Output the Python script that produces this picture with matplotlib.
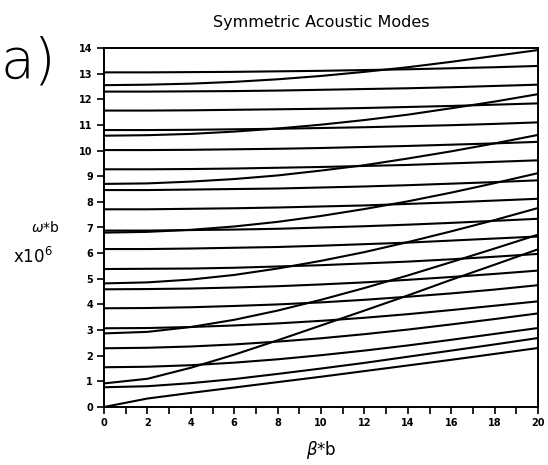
import matplotlib
matplotlib.use("Agg")
import matplotlib.pyplot as plt
import numpy as np

# beta*b sample positions
beta = [0, 2, 4, 6, 8, 10, 12, 14, 16, 18, 20]

# omega*b (x10^6) for each mode branch
mode_origin = [0.00, 0.33, 0.55, 0.76, 0.97, 1.18, 1.40, 1.62, 1.84, 2.07, 2.30]

flat_01 = [0.77, 0.81, 0.93, 1.09, 1.29, 1.50, 1.72, 1.96, 2.20, 2.44, 2.69]
flat_02 = [1.55, 1.57, 1.63, 1.73, 1.86, 2.02, 2.20, 2.40, 2.62, 2.85, 3.08]
flat_03 = [2.29, 2.31, 2.36, 2.44, 2.55, 2.68, 2.84, 3.02, 3.22, 3.43, 3.65]
flat_04 = [3.07, 3.08, 3.12, 3.18, 3.26, 3.36, 3.48, 3.62, 3.78, 3.95, 4.12]
flat_05 = [3.85, 3.86, 3.89, 3.94, 4.00, 4.08, 4.18, 4.30, 4.43, 4.58, 4.75]
flat_06 = [4.59, 4.60, 4.62, 4.66, 4.71, 4.78, 4.86, 4.96, 5.07, 5.19, 5.32]
flat_07 = [5.38, 5.39, 5.40, 5.43, 5.48, 5.53, 5.60, 5.67, 5.76, 5.86, 5.97]
flat_08 = [6.16, 6.16, 6.18, 6.21, 6.24, 6.29, 6.35, 6.41, 6.49, 6.57, 6.65]
flat_09 = [6.88, 6.88, 6.90, 6.92, 6.95, 7.00, 7.05, 7.11, 7.18, 7.26, 7.34]
flat_10 = [7.71, 7.71, 7.73, 7.75, 7.78, 7.82, 7.86, 7.92, 7.98, 8.05, 8.12]
flat_11 = [8.46, 8.46, 8.48, 8.50, 8.52, 8.56, 8.60, 8.65, 8.71, 8.77, 8.84]
flat_12 = [9.27, 9.27, 9.28, 9.30, 9.33, 9.36, 9.40, 9.44, 9.50, 9.56, 9.62]
flat_13 = [10.02, 10.02, 10.03, 10.05, 10.07, 10.10, 10.14, 10.18, 10.23, 10.28, 10.34]
flat_14 = [10.80, 10.80, 10.81, 10.83, 10.85, 10.88, 10.91, 10.95, 10.99, 11.04, 11.10]
flat_15 = [11.56, 11.56, 11.57, 11.59, 11.61, 11.63, 11.66, 11.70, 11.74, 11.79, 11.84]
flat_16 = [12.30, 12.30, 12.31, 12.32, 12.34, 12.37, 12.40, 12.43, 12.47, 12.52, 12.57]
flat_17 = [13.05, 13.05, 13.06, 13.07, 13.09, 13.11, 13.14, 13.17, 13.21, 13.25, 13.30]

steep_1 = [0.92, 1.10, 1.53, 2.04, 2.60, 3.18, 3.76, 4.35, 4.96, 5.55, 6.15]
steep_2 = [2.87, 2.93, 3.12, 3.40, 3.76, 4.18, 4.64, 5.13, 5.65, 6.18, 6.72]
steep_3 = [4.82, 4.86, 4.97, 5.15, 5.40, 5.70, 6.04, 6.43, 6.85, 7.29, 7.76]
steep_4 = [6.80, 6.83, 6.91, 7.04, 7.22, 7.45, 7.72, 8.02, 8.36, 8.73, 9.12]
steep_5 = [8.70, 8.72, 8.79, 8.89, 9.03, 9.22, 9.43, 9.69, 9.97, 10.28, 10.61]
steep_6 = [10.58, 10.60, 10.65, 10.74, 10.86, 11.01, 11.19, 11.40, 11.65, 11.91, 12.20]
steep_7 = [12.55, 12.57, 12.61, 12.68, 12.78, 12.91, 13.07, 13.25, 13.46, 13.69, 13.92]

modes = [mode_origin,
         flat_01, flat_02, flat_03, flat_04, flat_05, flat_06, flat_07, flat_08,
         flat_09, flat_10, flat_11, flat_12, flat_13, flat_14, flat_15, flat_16, flat_17,
         steep_1, steep_2, steep_3, steep_4, steep_5, steep_6, steep_7]

x_ticks = list(range(0, 21))
x_tick_labels = [str(v) if v % 2 == 0 else "" for v in x_ticks]
y_ticks = list(range(0, 15))
y_tick_labels = [str(v) for v in y_ticks]

title = "Symmetric Acoustic Modes"

fig = plt.figure(figsize=(5.48, 4.65), dpi=100)
ax = fig.add_axes([104 / 548, 1 - 407 / 465, 434 / 548, 359 / 465])

for m in modes:
    ax.plot(beta, m, color="black", lw=1.5, solid_capstyle="round")

ax.set_xlim(0, 20)
ax.set_ylim(0, 14)
ax.set_xticks(x_ticks)
ax.set_xticklabels(x_tick_labels, fontsize=7, fontweight="bold")
ax.set_yticks(y_ticks)
ax.set_yticklabels(y_tick_labels, fontsize=7, fontweight="bold")
ax.tick_params(direction="out", length=5, width=1.2, pad=3)
for s in ax.spines.values():
    s.set_linewidth(1.4)

fig.text(321 / 548, 1 - 22 / 465, title, ha="center", va="center", fontsize=11.5)
fig.text(28 / 548, 1 - 63 / 465, "a)", ha="center", va="center", fontsize=40,
         fontweight="light")
fig.text(45 / 548, 1 - 227 / 465, r"$\omega$*b", ha="center", va="center", fontsize=10)
fig.text(33 / 548, 1 - 257 / 465, r"x10$^6$", ha="center", va="center", fontsize=12)
fig.text(321 / 548, 1 - 450 / 465, r"$\beta$*b", ha="center", va="center", fontsize=12)

fig.savefig("out.png", dpi=100)
